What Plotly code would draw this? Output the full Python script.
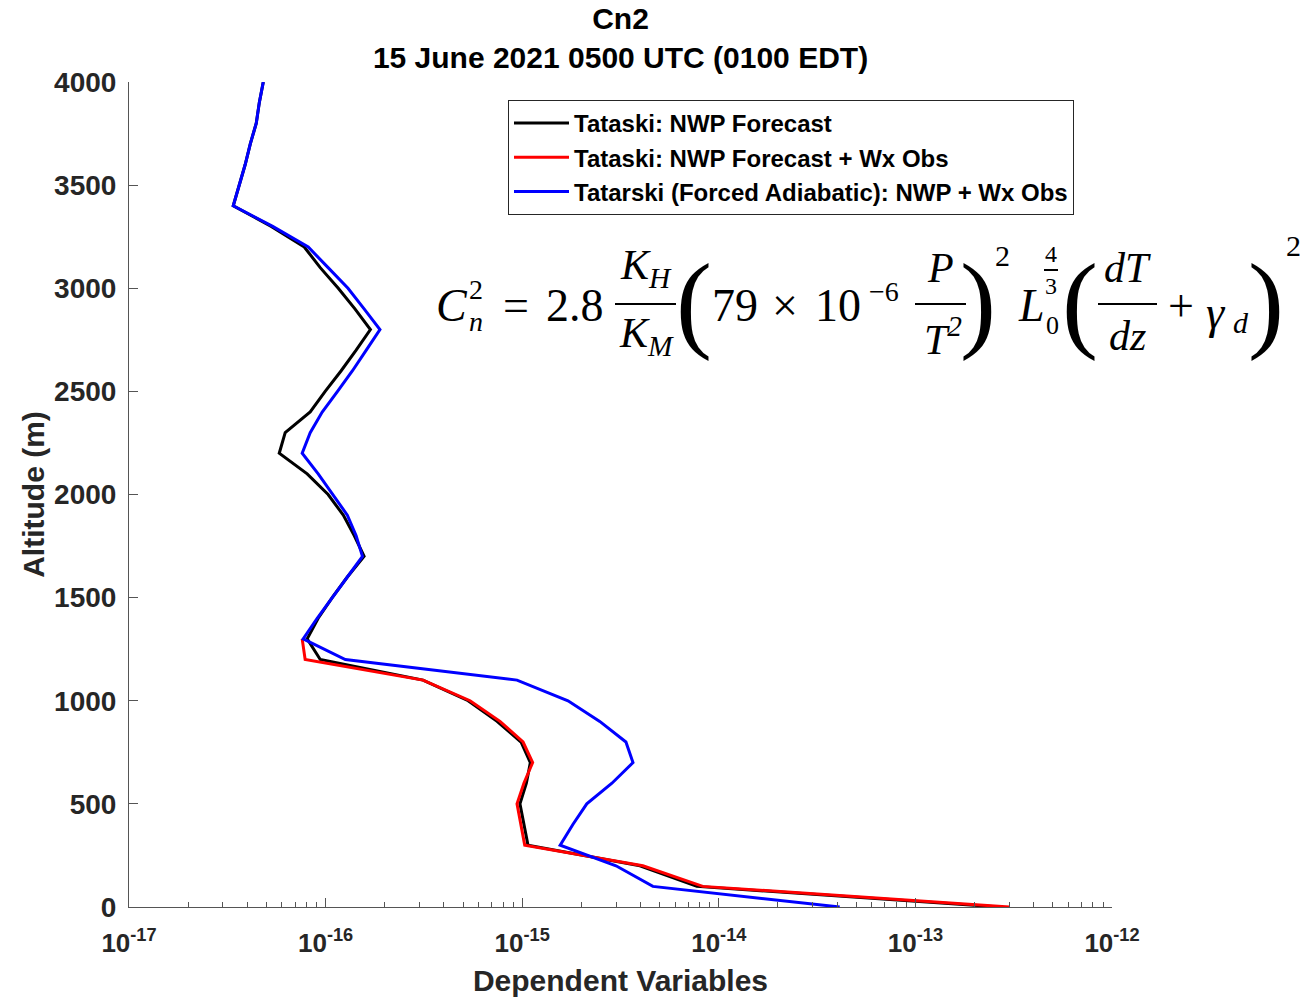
import plotly.graph_objects as go

# ---------------- data ----------------
alt_nwp = [4000, 3900, 3800, 3700, 3600, 3500, 3400, 3300, 3200, 3100, 3000, 2900, 2800,
           2700, 2600, 2500, 2400, 2300, 2200, 2100, 2000, 1900, 1800, 1700, 1600, 1500,
           1400, 1300, 1200, 1100, 1000, 900, 800, 700, 600, 500, 400, 300, 200, 100, 0]
cn2_nwp = [4.82e-17, 4.60e-17, 4.44e-17, 4.14e-17, 3.90e-17, 3.64e-17, 3.39e-17, 5.29e-17,
           7.79e-17, 9.39e-17, 1.16e-16, 1.41e-16, 1.69e-16, 1.43e-16, 1.20e-16, 9.95e-17,
           8.35e-17, 6.23e-17, 5.81e-17, 8.06e-17, 1.03e-16, 1.23e-16, 1.40e-16, 1.57e-16,
           1.29e-16, 1.08e-16, 9.17e-17, 8.06e-17, 9.39e-17, 3.13e-16, 5.31e-16, 7.45e-16,
           9.86e-16, 1.10e-15, 1.05e-15, 9.74e-16, 1.02e-15, 1.07e-15, 3.97e-15, 7.73e-15,
           2.68e-13]

alt_obs = [1300, 1200, 1100, 1000, 900, 800, 700, 600, 500, 400, 300, 200, 100, 0]
cn2_obs = [7.60e-17, 7.87e-17, 3.13e-16, 5.43e-16, 7.71e-16, 1.01e-15, 1.13e-15, 1.02e-15,
           9.41e-16, 9.86e-16, 1.03e-15, 4.11e-15, 8.29e-15, 3.01e-13]

alt_adb = alt_nwp
cn2_adb = [4.82e-17, 4.60e-17, 4.44e-17, 4.14e-17, 3.90e-17, 3.64e-17, 3.39e-17, 5.38e-17,
           8.16e-17, 1.03e-16, 1.30e-16, 1.57e-16, 1.89e-16, 1.61e-16, 1.37e-16, 1.15e-16,
           9.61e-17, 8.35e-17, 7.60e-17, 9.17e-17, 1.09e-16, 1.29e-16, 1.43e-16, 1.54e-16,
           1.29e-16, 1.08e-16, 9.06e-17, 7.69e-17, 1.26e-16, 9.41e-16, 1.71e-15, 2.48e-15,
           3.37e-15, 3.66e-15, 2.86e-15, 2.13e-15, 1.81e-15, 1.56e-15, 3.00e-15, 4.62e-15,
           4.12e-14]

series_names = ["Tataski: NWP Forecast",
                "Tataski: NWP Forecast + Wx Obs",
                "Tatarski (Forced Adiabatic): NWP + Wx Obs"]
series_colors = ["#000000", "#FF0000", "#0000FF"]

x_tick_exps = [-17, -16, -15, -14, -13, -12]
y_ticks = [0, 500, 1000, 1500, 2000, 2500, 3000, 3500, 4000]

# ---------------- figure ----------------
W, H = 1309, 997
ML, MR, MT, MB = 129, 197, 82, 90
PW, PH = W - ML - MR, H - MT - MB
SANS = "Liberation Sans, Arial, sans-serif"
SERIF = "Liberation Serif, DejaVu Serif, serif"
TXT = "#262626"

fig = go.Figure()
for xs, ys, name, col in [(cn2_nwp, alt_nwp, series_names[0], series_colors[0]),
                          (cn2_obs, alt_obs, series_names[1], series_colors[1]),
                          (cn2_adb, alt_adb, series_names[2], series_colors[2])]:
    fig.add_trace(go.Scatter(x=xs, y=ys, mode="lines", name=name,
                             line=dict(color=col, width=3)))

major = [10.0 ** e for e in x_tick_exps]
minor = [m * 10.0 ** e for e in x_tick_exps[:-1] for m in range(2, 10)]

fig.update_xaxes(type="log", range=[x_tick_exps[0], x_tick_exps[-1]],
                 tickmode="array", tickvals=major,
                 ticktext=[f"10<sup>{e}</sup>" for e in x_tick_exps],
                 ticks="inside", ticklen=9, tickwidth=1, tickcolor="#555",
                 minor=dict(tickmode="array", tickvals=minor, ticks="inside",
                            ticklen=5, tickwidth=1, tickcolor="#555", showgrid=False),
                 showline=True, linecolor="#555", linewidth=1, mirror=False,
                 showgrid=False, zeroline=False,
                 tickfont=dict(family=SANS, size=26, color=TXT, weight="bold"),
                 ticklabelstandoff=13,
                 title=dict(text="Dependent Variables", standoff=18,
                            font=dict(family=SANS, size=30, color=TXT, weight="bold")))
fig.update_yaxes(range=[0, 4000], tickmode="array", tickvals=y_ticks,
                 ticks="inside", ticklen=9, tickwidth=1, tickcolor="#555",
                 showline=True, linecolor="#555", linewidth=1, mirror=False,
                 showgrid=False, zeroline=False,
                 tickfont=dict(family=SANS, size=28, color=TXT, weight="bold"),
                 ticklabelstandoff=6,
                 title=dict(text="Altitude (m)", standoff=0,
                            font=dict(family=SANS, size=30, color=TXT, weight="bold")))

fig.update_layout(
    width=W, height=H, autosize=False,
    margin=dict(l=ML, r=MR, t=MT, b=MB, autoexpand=False),
    paper_bgcolor="white", plot_bgcolor="white",
    title=dict(text="Cn2<br>15 June 2021 0500 UTC (0100 EDT)",
               x=0.5, xref="paper", xanchor="center",
               y=0.9705, yref="container", yanchor="top",
               font=dict(family=SANS, size=30, color="#000", weight="bold")),
    legend=dict(x=(508 - ML) / PW, y=(907 - 100) / PH, xanchor="left", yanchor="top",
                bgcolor="white", bordercolor="#262626", borderwidth=1,
                font=dict(family=SANS, size=24, color="#000", weight="bold"),
                itemwidth=55, tracegroupgap=0),
    showlegend=True,
)

# ---------------- formula (text annotations) ----------------
def px(x):
    return (x - ML) / PW

def py(y):
    return (MT + PH - y) / PH

def txt(s, x, y, size, italic=False):
    fig.add_annotation(text=s, x=px(x), y=py(y), xref="paper", yref="paper",
                       xanchor="center", yanchor="middle", showarrow=False,
                       font=dict(family=SERIF, size=size, color="#000",
                                 style="italic" if italic else "normal"))

def bar(x0, x1, y):
    fig.add_shape(type="line", xref="paper", yref="paper",
                  x0=px(x0), x1=px(x1), y0=py(y), y1=py(y),
                  line=dict(color="#000", width=2))

FS = 46
txt("C", 452, 305, FS, True)
txt("2", 476, 289, 28)
txt("n", 476, 321, 28, True)
txt("=", 516, 305, FS)
txt("2.8", 575, 305, FS)
txt("K<sub>H</sub>", 646, 268, 42, True)
bar(615, 676, 304)
txt("K<sub>M</sub>", 646, 336, 42, True)
txt("(", 694, 302, 108)
txt("79", 735, 305, FS)
txt("×", 785, 305, FS)
txt("10", 838, 305, FS)
txt("−6", 884, 291, 28)
txt("P", 940, 268, 42, True)
bar(915, 966, 304)
txt("T<sup>2</sup>", 943, 336, 42, True)
txt(")", 978, 302, 108)
txt("2", 1002, 255, 30)
txt("L", 1031, 305, FS, True)
txt("4", 1051, 254, 24)
bar(1044, 1058, 270)
txt("3", 1051, 286, 24)
txt("0", 1052, 325, 26)
txt("(", 1080, 302, 108)
txt("dT", 1127, 268, 42, True)
bar(1098, 1157, 304)
txt("dz", 1127, 336, 42, True)
txt("+", 1181, 305, FS)
txt("γ", 1216, 312, FS, True)
txt("d", 1241, 322, 30, True)
txt(")", 1266, 302, 108)
txt("2", 1293, 245, 30)

fig.write_html("out.html", config={"displayModeBar": False},
               post_script="document.body.style.margin='0px';"
                           "document.body.style.overflow='hidden';")
